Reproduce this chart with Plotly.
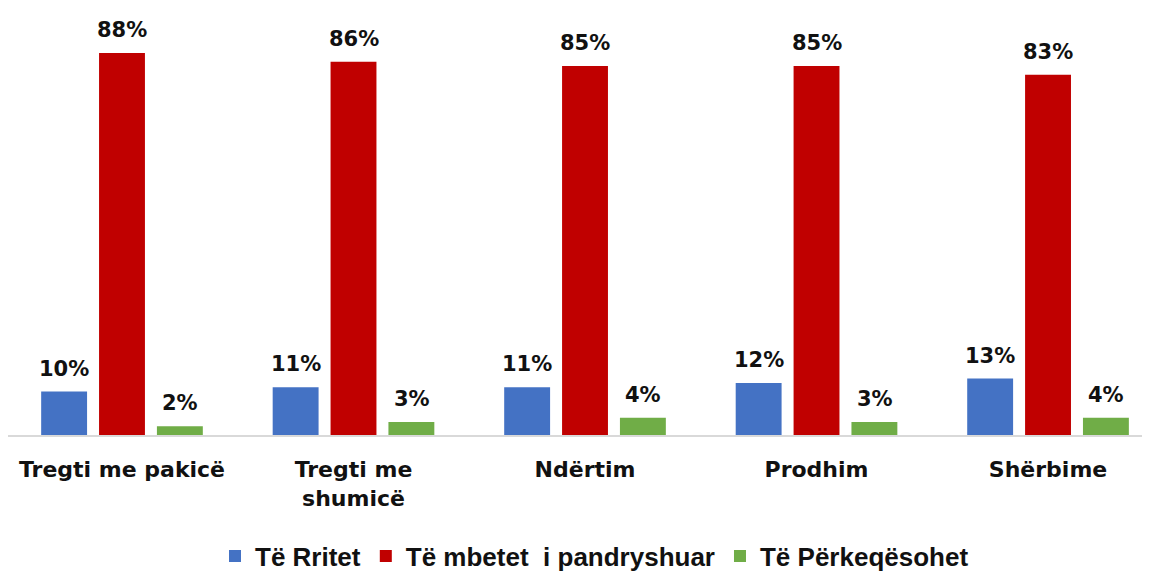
import plotly.graph_objects as go

# Të dhënat
kategorite = ["Tregti me pakicë", "Tregti me<br>shumicë", "Ndërtim", "Prodhim", "Shërbime"]
seri_emrat = ["Të Rritet", "Të mbetet  i pandryshuar", "Të Përkeqësohet"]
rritet = [10, 11, 11, 12, 13]
pandryshuar = [88, 86, 85, 85, 83]
perkeqesohet = [2, 3, 4, 3, 4]
ngjyrat = ["#4472C4", "#C00000", "#70AD47"]

seri_vlerat = [rritet, pandryshuar, perkeqesohet]

fig = go.Figure()
for emri, vlerat, ngjyra in zip(seri_emrat, seri_vlerat, ngjyrat):
    fig.add_trace(go.Bar(
        x=kategorite, y=vlerat, name=emri,
        marker=dict(color=ngjyra, line=dict(width=0)),
    ))

# Etiketat e vlerave mbi shtyllat
zhvendosjet = [-58, 0, 58]
for vlerat, dx in zip(seri_vlerat, zhvendosjet):
    for kat, v in zip(kategorite, vlerat):
        fig.add_annotation(
            x=kat, y=v, text=f"{v}%", showarrow=False,
            xshift=dx, yshift=9, yanchor="bottom",
            font=dict(family="DejaVu Sans", size=21, color="#111111", weight="bold"),
        )

fig.update_layout(
    width=1150, height=573,
    margin=dict(l=0, r=0, t=12, b=146, autoexpand=False),
    plot_bgcolor="white", paper_bgcolor="white",
    barmode="group", bargap=0.25, bargroupgap=0.207,
    showlegend=True,
    legend=dict(
        orientation="h", x=0.51, xanchor="center", y=-0.292, yanchor="middle",
        font=dict(family="Liberation Sans Narrow, Liberation Sans", size=26,
                  color="#111111", weight="bold"),
        itemsizing="constant", traceorder="normal",
    ),
    xaxis=dict(
        range=[-0.4924, 4.475], automargin=False,
        showline=True, linecolor="#d9d9d9", linewidth=2,
        tickfont=dict(family="DejaVu Sans", size=22, color="#111111", weight="bold"),
        ticks="", showgrid=False, ticklabelstandoff=14,
    ),
    yaxis=dict(range=[0, 95.6], visible=False, showgrid=False, zeroline=False),
)

fig.write_html("out.html")
